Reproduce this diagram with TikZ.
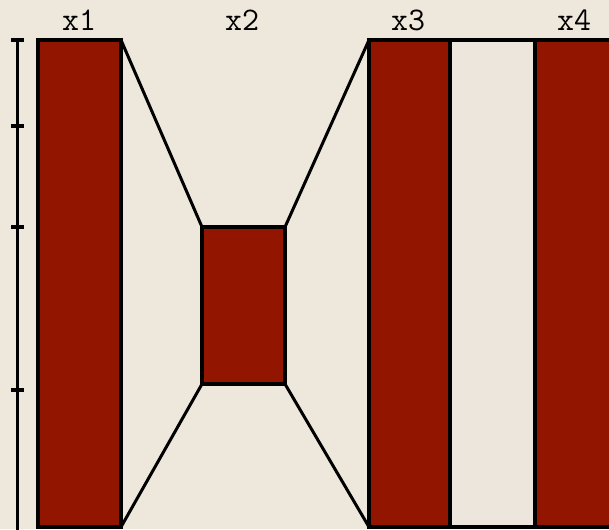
\documentclass[tikz,border=0pt]{standalone}
\usepackage{fontspec}
\definecolor{paper}{HTML}{EEE7DB}
\definecolor{brick}{HTML}{921500}
\definecolor{gap}{HTML}{EDE6DD}
\begin{document}
\begin{tikzpicture}[x=1pt,y=-1pt,
  bar/.style={draw=black,line width=3.4pt,fill=brick,inner sep=0pt,outer sep=0pt,anchor=center},
  gapbar/.style={bar,fill=gap},
  lbl/.style={font=\ttfamily\fontsize{33}{35}\selectfont,inner sep=0pt,anchor=center},
  link/.style={line width=3pt,line cap=round},
  rulerline/.style={line width=3pt},
  tick/.style={line width=3.6pt}]
\useasboundingbox (0,0) rectangle (609,529);
\fill[paper] (0,0) rectangle (609,529);
\begin{scope}
\clip (0,0) rectangle (609,529);
\node[bar,minimum width=83pt,minimum height=487pt] (x1) at (79.5,283.5) {};
\node[bar,minimum width=83pt,minimum height=157pt] (x2) at (243.5,305.5) {};
\node[bar,minimum width=81pt,minimum height=487pt] (x3) at (409.5,283.5) {};
\node[gapbar,minimum width=85pt,minimum height=487pt] (mid) at (492.5,283.5) {};
\node[bar,minimum width=80pt,minimum height=487pt] (x4) at (575,283.5) {};
\draw[link] (x1.north east) -- (x2.north west);
\draw[link] (x2.north east) -- (x3.north west);
\draw[link] (x2.south west) -- (x1.south east);
\draw[link] (x2.south east) -- (x3.south west);
\coordinate (st) at (17,40);
\coordinate (sb) at (17,540);
\draw[rulerline] (st) -- (sb);
\foreach \y in {40,126,227,390} \draw[tick] (11,\y) -- (24,\y);
\end{scope}
\node[lbl] (l1) at (79,20) {x1};
\node[lbl] (l2) at (242,20) {x2};
\node[lbl] (l3) at (408,20) {x3};
\node[lbl] (l4) at (574,20) {x4};
\end{tikzpicture}
\end{document}
